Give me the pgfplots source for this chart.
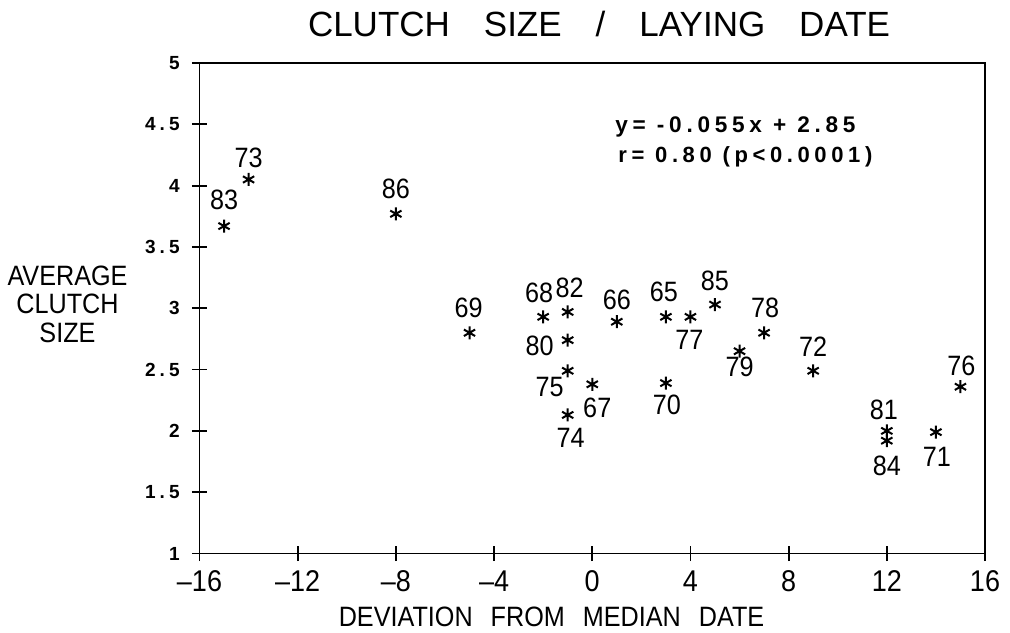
\documentclass[border=0pt]{standalone}
\usepackage{fontspec}
\setmainfont{Liberation Sans}[FakeStretch=0.9]
\newfontfamily\plainsans{Liberation Sans}
\newfontfamily\eqfont{Liberation Sans}[LetterSpace=21]
\usepackage{pgfplots}
\usepackage{pgfplotstable}
\pgfplotsset{compat=1.18}

\pgfplotstableread{
x y lab dx dy
-15 3.67 83 0 13
-14 4.05 73 0 11
-8 3.77 86 0 12.5
-5 2.80 69 -0.5 12.5
-2 2.93 68 -2 12
-1 2.97 82 1 12
-1 2.74 80 -14 -3
-1 2.49 75 -9 -8
-1 2.13 74 1.5 -11.5
0 2.38 67 2.5 -12
1 2.89 66 0 11
3 2.93 65 -1 12.5
4 2.93 77 -0.5 -11.5
5 3.03 85 0 12
3 2.39 70 0.5 -11
7 2.80 78 0.5 12.5
6 2.65 79 0 -8
9 2.49 72 0 12
12 2.00 81 -1.5 10.5
12 1.92 84 0 -12.5
14 1.99 71 0.5 -12.5
15 2.36 76 0.5 10.5
}\data

\begin{document}
\begin{tikzpicture}
\useasboundingbox (-99.75pt,-39.25pt) rectangle (405.25pt,276.75pt);
\begin{axis}[
  at={(0pt,0pt)}, anchor=south west,
  scale only axis, width=392.75pt, height=245.25pt,
  xmin=-16, xmax=16, ymin=1, ymax=5,
  xtick={-16,-12,...,16},
  xticklabels={--16,--12,--8,--4,0,4,8,12,16},
  ytick={1,1.5,...,5},
  yticklabels={1,1.5,2,2.5,3,3.5,4,4.5,5},
  xtick pos=bottom, ytick pos=left,
  tick align=center, major tick length=7.5pt,
  axis line style={line width=0.9pt, black},
  tick style={line width=0.9pt, black},
  clip=false,
  xticklabel style={font=\fontsize{15}{15}\selectfont, anchor=center, inner sep=0pt, yshift=-10pt},
  yticklabel style={font=\eqfont\bfseries\fontsize{9.5}{9.5}\selectfont, anchor=east, inner sep=0pt, xshift=-6pt},
]
\addplot[only marks, mark=asterisk, mark size=3.25pt,
  mark options={line width=1pt, black},
  point meta=explicit symbolic,
  nodes near coords,
  visualization depends on={\thisrow{dx} \as \labdx},
  visualization depends on={\thisrow{dy} \as \labdy},
  every node near coord/.append style={anchor=center, inner sep=0pt,
     xshift=\labdx pt, yshift=\labdy pt, font=\fontsize{14}{14}\selectfont, black},
] table[x=x, y=y, meta=lab] {\data};
\end{axis}
\node[font=\plainsans\fontsize{17.5}{17.5}\selectfont, anchor=base] at (199.75pt,258.25pt)
  {CLUTCH\hspace{17pt}SIZE\hspace{17pt}/\hspace{17pt}LAYING\hspace{17pt}DATE};
\node[font=\fontsize{14}{14}\selectfont, anchor=base] at (-66pt,134.25pt) {AVERAGE};
\node[font=\fontsize{14}{14}\selectfont, anchor=base] at (-66pt,120pt) {CLUTCH};
\node[font=\fontsize{14}{14}\selectfont, anchor=base] at (-66pt,105.75pt) {SIZE};
\node[font=\fontsize{14}{14}\selectfont, anchor=center] at (176pt,-31.5pt)
  {DEVIATION\hspace{9pt}FROM\hspace{9pt}MEDIAN\hspace{9pt}DATE};
\node[font=\eqfont\bfseries\fontsize{11.3}{11.3}\selectfont, anchor=base west, inner sep=0pt]
  at (207.75pt,210.25pt) {y= -0.055x + 2.85};
\node[font=\eqfont\bfseries\fontsize{11}{11}\selectfont, anchor=base west, inner sep=0pt]
  at (209.25pt,195.25pt) {r= 0.80 (p<0.0001)};
\end{tikzpicture}
\end{document}
